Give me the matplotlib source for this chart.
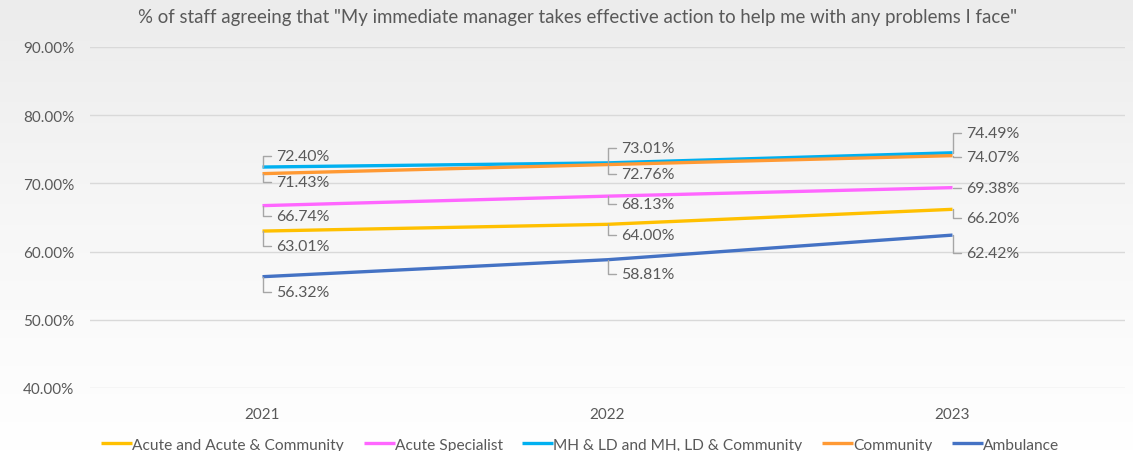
import numpy as np
import matplotlib
matplotlib.use("Agg")
import matplotlib.pyplot as plt
from matplotlib.colors import LinearSegmentedColormap
from matplotlib.ticker import PercentFormatter

plt.rcParams['font.family'] = ['Lato', 'DejaVu Sans']

years = ["2021", "2022", "2023"]
series_names = ["Acute and Acute & Community", "Acute Specialist",
                "MH & LD and MH, LD & Community", "Community", "Ambulance"]
acute = [63.01, 64.00, 66.20]
acute_specialist = [66.74, 68.13, 69.38]
mh_ld = [72.40, 73.01, 74.49]
community = [71.43, 72.76, 74.07]
ambulance = [56.32, 58.81, 62.42]
series_values = [acute, acute_specialist, mh_ld, community, ambulance]
title = '% of staff agreeing that "My immediate manager takes effective action to help me with any problems I face"'

colors = ["#FFC000", "#FF66FF", "#00B0F0", "#FF9933", "#4472C4"]
# label offsets in pixels (dy) for each series / year
label_dy = [
    [-15, -11, -9],
    [-10, -8, 0],
    [11, 15, 20],
    [-8, -9, -1],
    [-15, -14, -18],
]

fig = plt.figure(figsize=(11.33, 4.52), dpi=100)

# gradient background
bg = fig.add_axes([0, 0, 1, 1], zorder=-10)
cmap = LinearSegmentedColormap.from_list("bg", ["#ececec", "#f7f7f7", "#ffffff"])
grad = np.linspace(0, 1, 256).reshape(-1, 1)
bg.imshow(grad, aspect="auto", cmap=cmap, extent=[0, 1, 0, 1], origin="upper")
bg.axis("off")

ax = fig.add_axes([90 / 1133, 63 / 452, 1035 / 1133, 341 / 452])
ax.set_facecolor("none")

x = np.arange(len(years))
order = [4, 0, 1, 2, 3]
for i in order:
    ax.plot(x, series_values[i], color=colors[i], lw=2.4, solid_capstyle="butt",
            label=series_names[i], zorder=3 + i)

for i, vals in enumerate(series_values):
    for j, v in enumerate(vals):
        ax.annotate(f"{v:.2f}%", xy=(x[j], v), xytext=(14, label_dy[i][j]),
                    textcoords="offset pixels", ha="left", va="center",
                    fontsize=11.4, color="#595959", zorder=10,
                    arrowprops=dict(arrowstyle="-", color="#a6a6a6", lw=1,
                                    connectionstyle="angle,angleA=0,angleB=90,rad=0",
                                    relpos=(0, 0.5), shrinkA=2, shrinkB=0))

ax.set_xlim(-0.5, 2.5)
ax.set_ylim(40, 90)
ax.set_yticks(np.arange(40, 91, 10))
ax.yaxis.set_major_formatter(PercentFormatter(decimals=2))
ax.set_xticks(x)
ax.set_xticklabels(years)
ax.grid(axis="y", color="#d9d9d9", lw=1)
ax.set_axisbelow(True)
for s in ax.spines.values():
    s.set_visible(False)
ax.tick_params(length=0, labelsize=11, labelcolor="#595959")
ax.tick_params(axis="x", pad=14)
ax.tick_params(axis="y", pad=11.5)

handles, labels = ax.get_legend_handles_labels()
hmap = dict(zip(labels, handles))
fig.legend([hmap[n] for n in series_names], series_names, loc="lower center",
           bbox_to_anchor=(0.512, -0.022), ncol=5, frameon=False, fontsize=11.2,
           labelcolor="#595959", handlelength=2.0, handletextpad=0.0,
           columnspacing=1.25, borderaxespad=0.2)

fig.text(578 / 1133, 1 - 17 / 452, title, ha="center", va="center",
         fontsize=13.4, color="#595959")

fig.savefig("out.png", dpi=100)
